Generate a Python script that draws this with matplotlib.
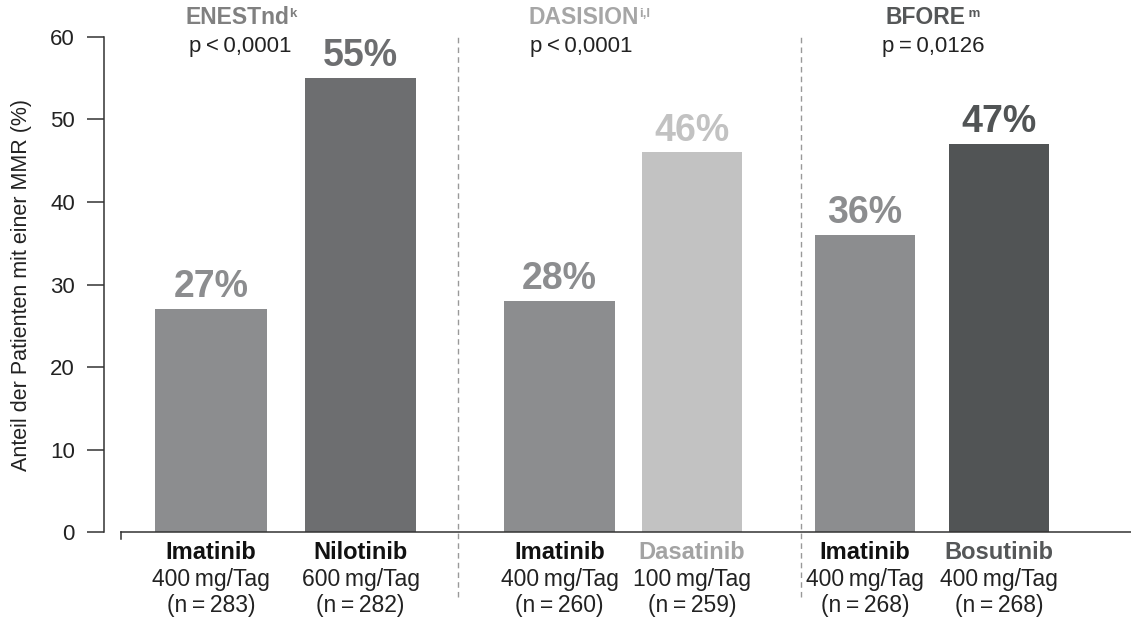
import matplotlib.pyplot as plt
from matplotlib.transforms import blended_transform_factory

plt.rcParams['font.family'] = ['Liberation Sans', 'DejaVu Sans']

# MMR-Raten je Studie und Therapiearm
drugs = ['Imatinib', 'Nilotinib', 'Imatinib', 'Dasatinib', 'Imatinib', 'Bosutinib']
doses = [400, 600, 400, 100, 400, 400]
n_pat = [283, 282, 260, 259, 268, 268]
mmr = [27, 55, 28, 46, 36, 47]
studies = ['ENESTnd', 'DASISION', 'BFORE']
study_sup = ['k', 'i,l', ' m']
p_values = ['p<0,0001', 'p<0,0001', 'p=0,0126']

# Layout / Farben
xpos = [2.11, 3.605, 5.595, 6.92, 8.65, 9.99]
widths = [1.12, 1.11, 1.11, 1.00, 1.00, 1.00]
bar_colors = ['#8c8d8f', '#6d6e70', '#8c8d8f', '#c2c2c2', '#8c8d8f', '#515455']
drug_colors = ['#111111', '#111111', '#111111', '#a3a3a3', '#111111', '#555758']
study_x = [1.85, 5.28, 8.85]
p_x = [1.89, 5.30, 8.82]
study_colors = ['#808080', '#a6a6a6', '#555758']
sep_x = [4.575, 8.01]

ts = '\u2009'  # schmales Leerzeichen


def spaced(s):
    return s.replace('<', ts + '<' + ts).replace('=', ts + '=' + ts)


fig = plt.figure(figsize=(11.31, 6.26), dpi=100)
ax = fig.add_axes([0.092, 0.150, 0.908, 0.791])

ax.bar(xpos, mmr, width=widths, color=bar_colors, zorder=2)
for x, v, c in zip(xpos, mmr, bar_colors):
    ax.text(x, v + 1.45, f'{v}%', ha='center', va='baseline', fontsize=27,
            fontweight='bold', color=c)

ax.set_xlim(1.04, 11.31)
ax.set_ylim(0, 60)
ax.set_yticks(range(0, 61, 10))
ax.set_xticks([])
ax.tick_params(axis='y', direction='out', length=12, width=1.1, color='#333333',
               labelsize=16, pad=9, labelcolor='#222222')
for s in ['top', 'right']:
    ax.spines[s].set_visible(False)
ax.spines['left'].set_color('#333333')
ax.spines['left'].set_linewidth(1.1)
ax.spines['bottom'].set_color('#333333')
ax.spines['bottom'].set_linewidth(1.1)
ax.spines['bottom'].set_bounds(1.21, 11.31)
# kleiner Haken am Anfang der x-Achse
ax.plot([1.21, 1.21], [0, -0.8], color='#333333', lw=1.1, clip_on=False)

fig.text(0.019, 0.545, 'Anteil der Patienten mit einer MMR (%)', rotation=90,
         ha='center', va='center', fontsize=15.5, color='#222222')

trans = blended_transform_factory(ax.transData, fig.transFigure)

# gestrichelte Trennlinien zwischen den Studien
for x in sep_x:
    ax.plot([x, x], [0.047, 0.945], transform=trans, color='#999999', lw=1.0,
            ls=(0, (4, 3)), clip_on=False)

# Studientitel (mit Fußnotenzeichen) und p-Werte
for x, px, name, sup, p, c in zip(study_x, p_x, studies, study_sup, p_values, study_colors):
    t = ax.text(x, 0.972, name, transform=trans, ha='left', va='center',
                fontsize=16.5, fontweight='bold', color=c)
    ax.annotate(sup, xy=(1, 1), xycoords=t, xytext=(0.3, -1.5), textcoords='offset points',
                ha='left', va='top', fontsize=9.5, fontweight='bold', color=c)
    ax.text(px, 0.925, spaced(p), transform=trans, ha='left', va='center',
            fontsize=16, color='#222222')

# Beschriftung unter den Balken
for x, d, dose, n, c in zip(xpos, drugs, doses, n_pat, drug_colors):
    ax.text(x, 0.118, d, transform=trans, ha='center', va='center',
            fontsize=17, fontweight='bold', color=c)
    ax.text(x, 0.074, f'{dose}{ts}mg/Tag', transform=trans, ha='center', va='center',
            fontsize=16.5, color='#222222')
    ax.text(x, 0.032, f'(n{ts}={ts}{n})', transform=trans, ha='center', va='center',
            fontsize=16.5, color='#222222')

fig.savefig('out.png', dpi=100)
